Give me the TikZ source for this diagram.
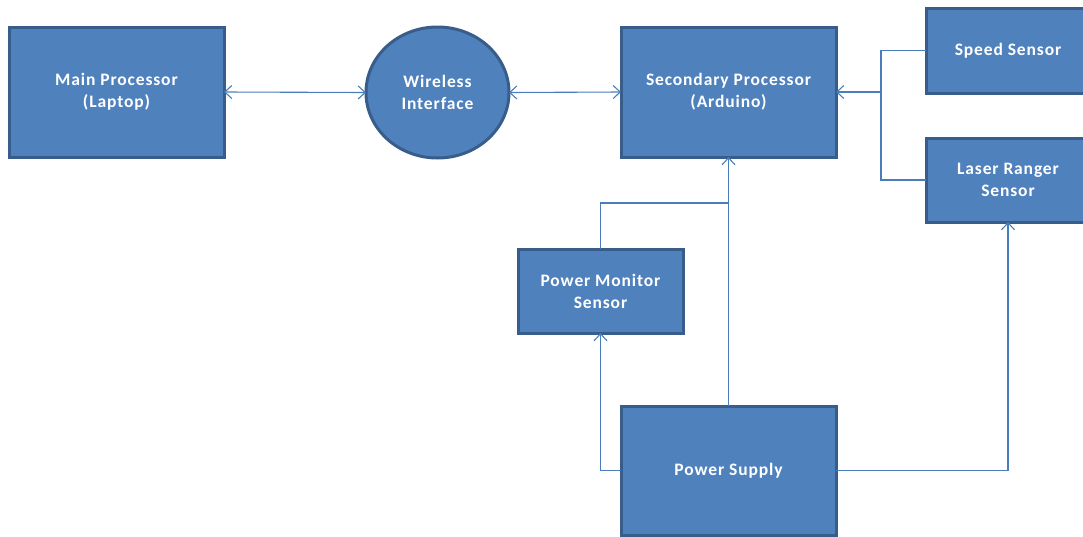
\documentclass[tikz,border=0pt]{standalone}
\usepackage{fontspec}
\setmainfont{Carlito}[LetterSpace=5]
\usetikzlibrary{arrows.meta,shapes.geometric}
\definecolor{boxfill}{HTML}{4F81BD}
\definecolor{boxline}{HTML}{385D8A}
\definecolor{wire}{HTML}{4A7EBB}
\tikzset{
  block/.style={draw=boxline, fill=boxfill, line width=3pt, inner sep=0pt, outer sep=0pt,
    text=white, align=center, font=\fontsize{17.5}{22}\selectfont\bfseries},
  hub/.style={block, ellipse},
  conn/.style={draw=wire, line width=1.1pt},
  tip/.style={-{Straight Barb[length=7pt,width=13pt,line width=1.1pt]}},
  tips/.style={{Straight Barb[length=7pt,width=13pt,line width=1.1pt]}-{Straight Barb[length=7pt,width=13pt,line width=1.1pt]}}
}
\begin{document}
\begin{tikzpicture}[x=1pt,y=-1pt]
  \useasboundingbox (0,0) rectangle (1083,536);
  \clip (0,0) rectangle (1083,536);
  % blocks
  \node[block, minimum width=215pt, minimum height=130pt] (main) at (116.5,92) {Main Processor\\(Laptop)};
  \node[hub, minimum width=143pt, minimum height=131pt] (wifi) at (437.5,92.5) {Wireless\\Interface};
  \node[block, minimum width=215pt, minimum height=130pt] (sec) at (728.5,92) {Secondary Processor\\(Arduino)};
  \node[block, minimum width=164pt, minimum height=85pt] (speed) at (1008,50.5) {Speed Sensor};
  \node[block, minimum width=164pt, minimum height=84pt] (laser) at (1008,180) {Laser Ranger\\Sensor};
  \node[block, minimum width=165pt, minimum height=84pt] (pm) at (600.5,291) {Power Monitor\\Sensor};
  \node[block, minimum width=215pt, minimum height=129pt] (ps) at (728.5,470.5) {Power Supply};
  % junction points
  \coordinate (jr) at (881,92);
  \coordinate (jp) at (728.5,203);
  % data links
  \draw[conn,tips] (main.east) -- (wifi.west);
  \draw[conn,tips] (wifi.east) -- (sec.west);
  \draw[conn] (speed.west) -| (jr) |- (laser.west);
  \draw[conn,tip] (jr) -- (sec.east);
  % power distribution
  \draw[conn,tip] (ps.north) -- (sec.south);
  \draw[conn] (pm.north) |- (jp);
  \draw[conn,tip] (ps.west) -| (pm.south);
  \draw[conn,tip] (ps.east) -| (laser.south);
\end{tikzpicture}
\end{document}
